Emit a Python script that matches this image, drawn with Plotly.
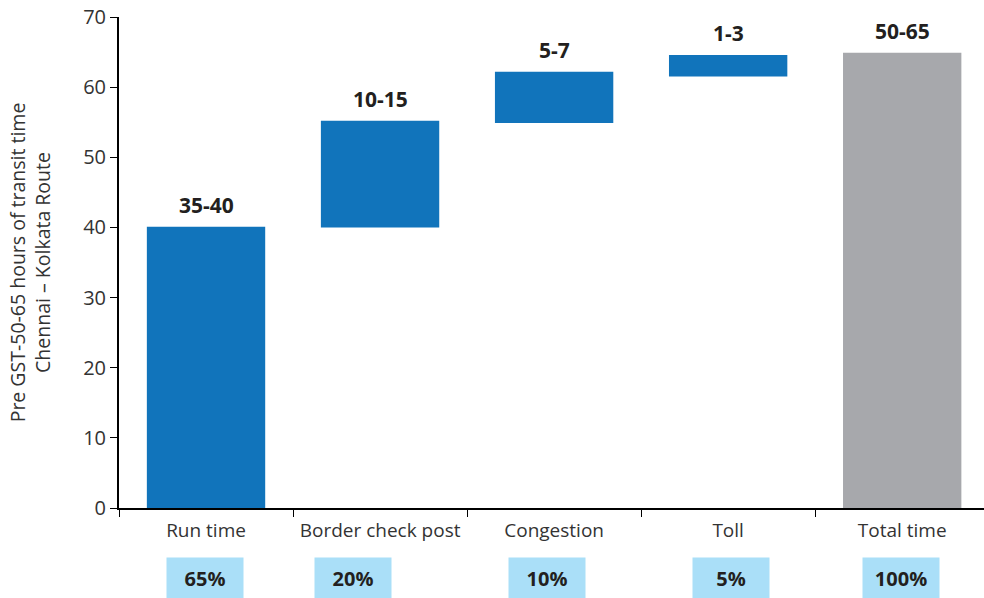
import plotly.graph_objects as go

# Transit time breakdown, Chennai - Kolkata route (pre GST)
categories = ["Run time", "Border check post", "Congestion", "Toll", "Total time"]
bar_low = [0, 40, 54.9, 61.5, 0]
bar_high = [40.1, 55.2, 62.2, 64.6, 64.9]
range_labels = ["35-40", "10-15", "5-7", "1-3", "50-65"]
share_labels = ["65%", "20%", "10%", "5%", "100%"]
bar_colors = ["#1174BB", "#1174BB", "#1174BB", "#1174BB", "#A7A8AC"]

# horizontal nudges (px) for the share boxes under the axis
share_box_shift = [-1, -27, -7, 3, -1]

FONT = "Open Sans"
TEXT = "#231F20"

fig = go.Figure()
fig.add_trace(go.Bar(
    x=categories,
    y=[h - l for l, h in zip(bar_low, bar_high)],
    base=bar_low,
    marker=dict(color=bar_colors, line=dict(width=0)),
    width=0.68,
    hoverinfo="skip",
))

annotations = []
for cat, top, lab in zip(categories, bar_high, range_labels):
    annotations.append(dict(
        x=cat, y=top, xref="x", yref="y", text=f"<b>{lab}</b>",
        showarrow=False, yanchor="bottom", yshift=6,
        font=dict(family=FONT, size=21, color=TEXT),
    ))
for cat, lab, dx in zip(categories, share_labels, share_box_shift):
    annotations.append(dict(
        x=cat, y=-0.1426, xref="x", yref="paper", text=f"<b>{lab}</b>",
        showarrow=False, yanchor="middle", width=76, height=40, xshift=dx,
        bgcolor="#AADFF8", borderpad=0,
        font=dict(family=FONT, size=20, color=TEXT),
    ))

fig.update_layout(
    width=984, height=598,
    margin=dict(l=119, r=0, t=17, b=90),
    paper_bgcolor="white", plot_bgcolor="white",
    showlegend=False,
    font=dict(family=FONT, color="#333333"),
    annotations=annotations,
)
fig.update_xaxes(
    range=[-0.5, 4.47],
    showline=True, linecolor="black", linewidth=2,
    ticks="outside", tickson="boundaries", ticklen=7, tickcolor="black", tickwidth=1,
    tickfont=dict(family=FONT, size=19, color="#333333"),
    ticklabelstandoff=4,
    showgrid=False, zeroline=False,
)
fig.update_yaxes(
    range=[0, 70], dtick=10,
    showline=True, linecolor="black", linewidth=2,
    ticks="outside", ticklen=7, tickcolor="black", tickwidth=1,
    tickfont=dict(family=FONT, size=20, color="#333333"),
    showgrid=False, zeroline=False,
    title=dict(text="Pre GST-50-65 hours of transit time<br>Chennai – Kolkata Route",
               font=dict(family=FONT, size=19.5, color="#333333"), standoff=27),
)

fig.write_html("out.html")
